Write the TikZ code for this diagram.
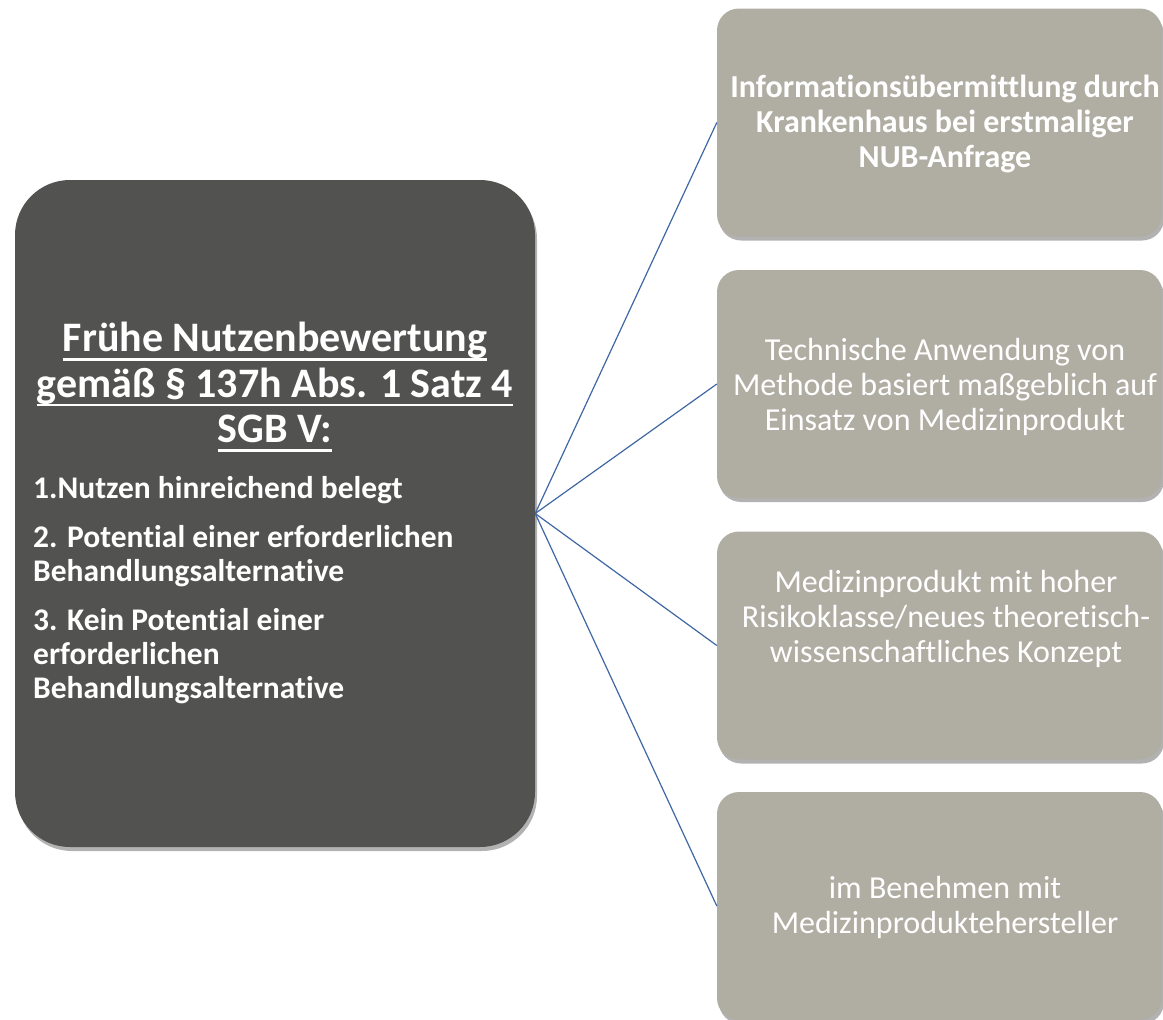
\documentclass[tikz,border=0pt]{standalone}
\usepackage{fontspec}
\setmainfont{Carlito}[Ligatures={NoCommon}]
\usetikzlibrary{shadows}
\definecolor{darkbox}{HTML}{525251}
\definecolor{greybox}{HTML}{B0ADA3}
\definecolor{linkblue}{HTML}{3F67A3}
\newcommand\myul[1]{\setbox0\hbox{#1}\rlap{\usebox0}\rule[-9pt]{\wd0}{2.4pt}}
\tikzset{
  mainbox/.style={draw=none, fill=darkbox, rounded corners=55pt,
    minimum width=520pt, minimum height=667pt, inner sep=0pt,
    drop shadow={shadow xshift=2pt, shadow yshift=-4pt, opacity=0.3, fill=black}},
  sidebox/.style={draw=none, fill=greybox, rounded corners=22pt,
    minimum width=445pt, minimum height=228pt, inner sep=0pt,
    drop shadow={shadow xshift=2pt, shadow yshift=-4pt, opacity=0.3, fill=black}},
  sidetext/.style={text=white, align=center, font=\fontsize{32}{35}\selectfont, inner sep=0pt},
  link/.style={draw=linkblue, line width=1.2pt}
}
\begin{document}
\begin{tikzpicture}[x=1pt,y=-1pt]
\useasboundingbox (0,0) rectangle (1163,1020);

\node[mainbox] (main) at (275,513.5) {};
\node[sidebox] (b1) at (939.5,122.5) {};
\node[sidebox] (b2) at (939.5,384) {};
\node[sidebox] (b3) at (939.5,645.5) {};
\node[sidebox] (b4) at (939.5,906) {};

\foreach \b in {b1,b2,b3,b4}{\draw[link] (main.east) -- (\b.west);}

\node[text=white, align=center, inner sep=0pt, anchor=north, font=\bfseries\fontsize{42}{45.5}\selectfont] (title) at (275,322)
  {\myul{Frühe Nutzenbewertung}\\\myul{gemäß § 137h Abs. 1 Satz 4}\\\myul{SGB V:}};

\node[text=white, align=left, inner sep=0pt, anchor=north west, font=\bfseries\fontsize{31.5}{34}\selectfont] (list) at (33,476)
  {1.Nutzen hinreichend belegt\\[15pt]
   2. Potential einer erforderlichen\\Behandlungsalternative\\[15pt]
   3. Kein Potential einer\\erforderlichen\\Behandlungsalternative};

\node[sidetext, font=\bfseries\fontsize{32}{35}\selectfont] (t1) at (945,124)
  {Informationsübermittlung durch\\Krankenhaus bei erstmaliger\\NUB-Anfrage};
\node[sidetext] (t2) at (945,387)
  {Technische Anwendung von\\Methode basiert maßgeblich auf\\Einsatz von Medizinprodukt};
\node[sidetext] (t3) at (946,619)
  {Medizinprodukt mit hoher\\Risikoklasse/neues theoretisch-\\wissenschaftliches Konzept};
\node[sidetext] (t4) at (945,907)
  {im Benehmen mit\\Medizinproduktehersteller};
\end{tikzpicture}
\end{document}
